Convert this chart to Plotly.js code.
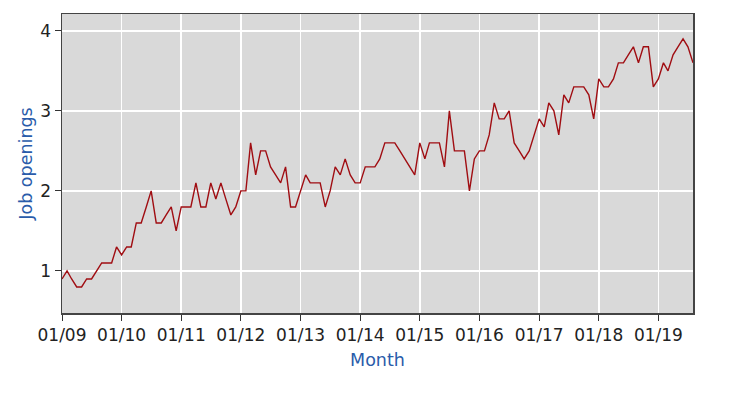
<!DOCTYPE html>
<html><head><meta charset="utf-8">
<script src="https://cdn.plot.ly/plotly-3.0.1.min.js"></script>
<style>html,body{margin:0;padding:0;background:#fff}#c{width:738px;height:396px}</style>
</head><body><div id="c"></div>
<script>
const startYear = 2009;
const values = [
0.9,1.0,0.9,0.8,0.8,0.9,0.9,1.0,1.1,1.1,1.1,1.3,
1.2,1.3,1.3,1.6,1.6,1.8,2.0,1.6,1.6,1.7,1.8,1.5,
1.8,1.8,1.8,2.1,1.8,1.8,2.1,1.9,2.1,1.9,1.7,1.8,
2.0,2.0,2.6,2.2,2.5,2.5,2.3,2.2,2.1,2.3,1.8,1.8,
2.0,2.2,2.1,2.1,2.1,1.8,2.0,2.3,2.2,2.4,2.2,2.1,
2.1,2.3,2.3,2.3,2.4,2.6,2.6,2.6,2.5,2.4,2.3,2.2,
2.6,2.4,2.6,2.6,2.6,2.3,3.0,2.5,2.5,2.5,2.0,2.4,
2.5,2.5,2.7,3.1,2.9,2.9,3.0,2.6,2.5,2.4,2.5,2.7,
2.9,2.8,3.1,3.0,2.7,3.2,3.1,3.3,3.3,3.3,3.2,2.9,
3.4,3.3,3.3,3.4,3.6,3.6,3.7,3.8,3.6,3.8,3.8,3.3,
3.4,3.6,3.5,3.7,3.8,3.9,3.8,3.6
];
const months = values.map((v,i)=>{
  const y = startYear + Math.floor(i/12), m = i%12 + 1;
  return y + '-' + String(m).padStart(2,'0') + '-01';
});
const tickVals = ['2009-01-01','2010-01-01','2011-01-01','2012-01-01','2013-01-01','2014-01-01','2015-01-01','2016-01-01','2017-01-01','2018-01-01','2019-01-01'];
const tickText = ['01/09','01/10','01/11','01/12','01/13','01/14','01/15','01/16','01/17','01/18','01/19'];

Plotly.newPlot('c', [{
  x: months, y: values, type: 'scatter', mode: 'lines',
  line: {color: '#a00d12', width: 1.4}, hoverinfo: 'skip'
}], {
  width: 738, height: 396,
  margin: {l: 62, r: 45, t: 14, b: 83},
  paper_bgcolor: '#ffffff', plot_bgcolor: '#d9d9d9',
  font: {family: 'DejaVu Sans, sans-serif', size: 17, color: '#000'},
  showlegend: false,
  xaxis: {
    type: 'date', range: [months[0], months[months.length-1]],
    tickvals: tickVals, ticktext: tickText,
    showgrid: true, gridcolor: '#ffffff', gridwidth: 1.5,
    ticks: 'outside', ticklen: 6, tickcolor: '#333',
    showline: true, linecolor: '#444', linewidth: 1.5, mirror: true,
    zeroline: false,
    tickfont: {size: 17, color: '#222'},
    title: {text: 'Month', font: {size: 17.5, color: '#2a5caa'}, standoff: 10}
  },
  yaxis: {
    range: [0.475, 4.21],
    tickvals: [1,2,3,4],
    showgrid: true, gridcolor: '#ffffff', gridwidth: 1.5,
    ticks: 'outside', ticklen: 6, tickcolor: '#333',
    showline: true, linecolor: '#444', linewidth: 1.5, mirror: true,
    zeroline: false,
    tickfont: {size: 17, color: '#222'},
    title: {text: 'Job openings', font: {size: 17.5, color: '#2a5caa'}, standoff: 3}
  }
}, {staticPlot: true});
</script></body></html>
